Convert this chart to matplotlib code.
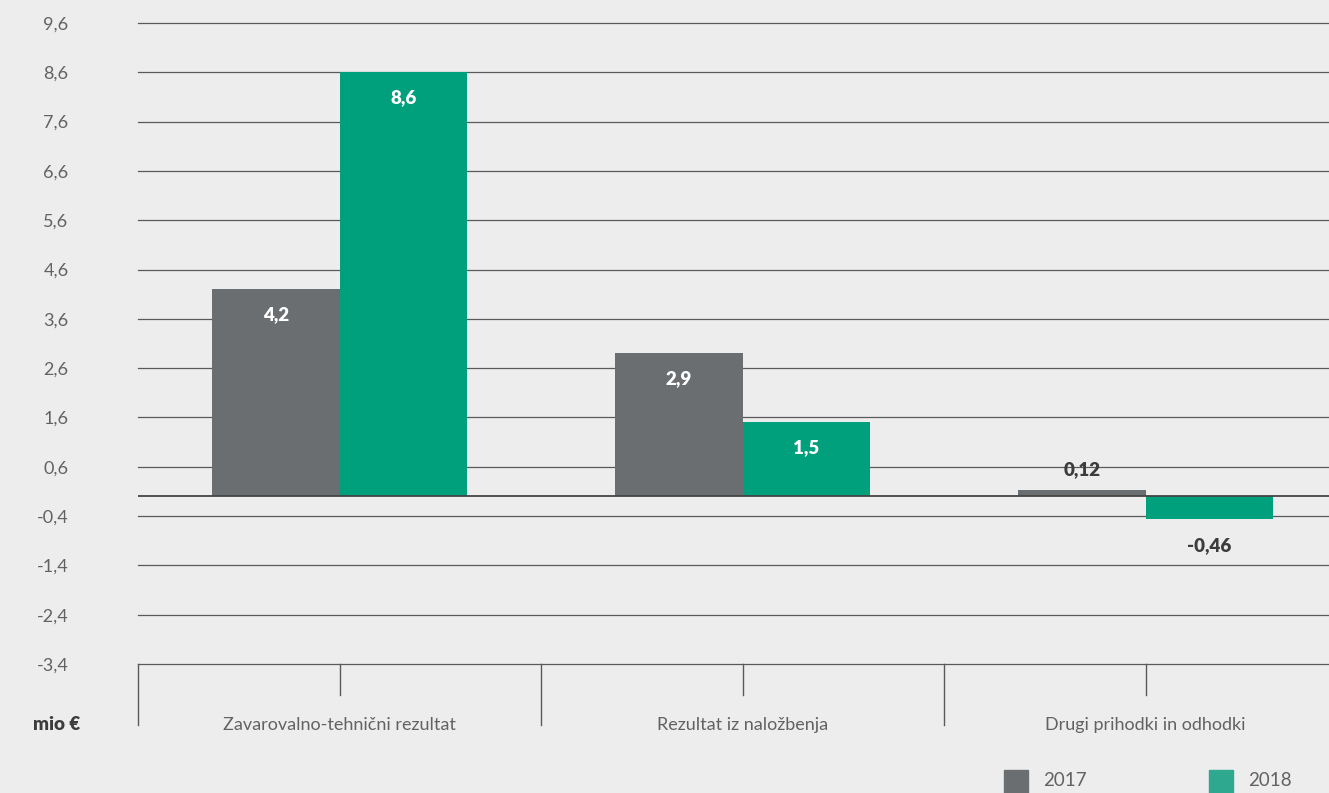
import numpy as np
import matplotlib.pyplot as plt

categories = ["Zavarovalno-tehnični rezultat", "Rezultat iz naložbenja", "Drugi prihodki in odhodki"]
series_names = ["2017", "2018"]
values_2017 = [4.2, 2.9, 0.12]
values_2018 = [8.6, 1.5, -0.46]
labels_2017 = ["4,2", "2,9", "0,12"]
labels_2018 = ["8,6", "1,5", "-0,46"]
yticks = [9.6, 8.6, 7.6, 6.6, 5.6, 4.6, 3.6, 2.6, 1.6, 0.6, -0.4, -1.4, -2.4, -3.4]

bg = "#ededed"
c_2017 = "#6b6e70"
c_2018 = "#00a07d"
grid_c = "#5a5a5a"
txt_c = "#626262"
dark_c = "#3c3c3c"

plt.rcParams['font.family'] = ['Lato', 'DejaVu Sans']

W, H = 1329, 793
fig = plt.figure(figsize=(W / 100, H / 100), dpi=100)
fig.patch.set_facecolor(bg)

# axes from x=138 to x=1347 px (runs past the right edge), y=23 to 664 px
ax = fig.add_axes([138 / W, 1 - 664 / H, (1347 - 138) / W, (664 - 23) / H])
ax.set_facecolor(bg)
ax.set_xlim(-0.5, 2.5)
ax.set_ylim(-3.4, 9.6)

for t in yticks:
    ax.axhline(t, color=grid_c, lw=0.9, zorder=0, clip_on=False)
ax.axhline(0, color="#444444", lw=1.3, zorder=3)

x = np.arange(len(categories))
w = 0.316
b1 = ax.bar(x - w / 2, values_2017, w, color=c_2017, zorder=2)
b2 = ax.bar(x + w / 2, values_2018, w, color=c_2018, zorder=2)

for i in range(len(categories)):
    for xv, v, lab in [(x[i] - w / 2, values_2017[i], labels_2017[i]),
                       (x[i] + w / 2, values_2018[i], labels_2018[i])]:
        if v > 1:
            ax.annotate(lab, (xv, v), xytext=(0, -18), textcoords="offset points",
                        ha="center", va="center", color="white", fontsize=13.5, fontweight="heavy")
        elif v >= 0:
            ax.annotate(lab, (xv, v), xytext=(0, 15), textcoords="offset points",
                        ha="center", va="center", color=dark_c, fontsize=13.5, fontweight="heavy")
        else:
            ax.annotate(lab, (xv, v), xytext=(0, -19), textcoords="offset points",
                        ha="center", va="center", color=dark_c, fontsize=13.5, fontweight="heavy")

ax.set_yticks(yticks)
ax.set_yticklabels([f"{t:.1f}".replace(".", ",") for t in yticks])
ax.tick_params(axis="y", length=0, pad=50, labelsize=13, labelcolor=txt_c)

ax.set_xticks([])
for s in ax.spines.values():
    s.set_visible(False)

# category ticks below the axis
px = 1 / (664 - 23) * 13  # data units per pixel in y
for i, c in enumerate(categories):
    ax.plot([i, i], [-3.4, -3.4 - 31 * px], color=grid_c, lw=1, clip_on=False)
    ax.plot([i - 0.5, i - 0.5], [-3.4, -3.4 - 61 * px], color=grid_c, lw=1, clip_on=False)
    ax.text(i, -3.4 - 61 * px, c, ha="center", va="center", fontsize=13,
            color=txt_c, clip_on=False)
ax.plot([2.5, 2.5], [-3.4, -3.4 - 61 * px], color=grid_c, lw=1, clip_on=False)

fig.text(80 / W, 1 - 725 / H, "mio €", ha="right", va="center", fontsize=13.5,
         fontweight="heavy", color=dark_c)

# legend
for name, col, lx in [(series_names[0], c_2017, 1004), (series_names[1], "#2ea88e", 1209)]:
    fig.patches.append(plt.Rectangle((lx / W, 1 - 793 / H), 24 / W, 23 / H,
                                     transform=fig.transFigure, color=col, figure=fig))
    fig.text((lx + 39) / W, 1 - 781 / H, name, ha="left", va="center", fontsize=13.5,
             color=txt_c)

fig.savefig("out.png", dpi=100, facecolor=bg)
